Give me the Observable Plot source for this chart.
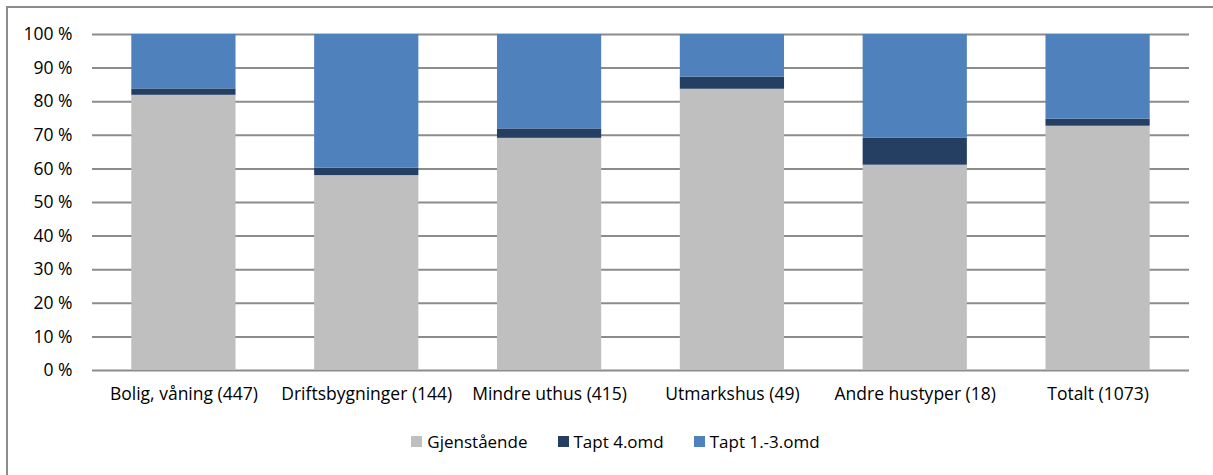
<!DOCTYPE html>
<html>
<head>
<meta charset="utf-8">
<script src="https://cdn.jsdelivr.net/npm/d3@7"></script>
<script src="https://cdn.jsdelivr.net/npm/@observablehq/plot@0.6"></script>
<style>
  html, body { margin: 0; padding: 0; background: #fff; overflow: hidden; }
  body { width: 1213px; height: 475px; position: relative; font-family: "Open Sans", sans-serif; }
  #frame { position: absolute; left: 6px; top: 6px; width: 1400px; height: 700px; border: 2px solid #8c8c8c; box-sizing: border-box; pointer-events: none; }
  #chart { position: absolute; left: 0; top: 0; }
  #legend { position: absolute; left: 0; top: 420px; width: 1213px; height: 55px; display: flex; justify-content: center; align-items: flex-start; padding-left: 18px; padding-top: 10px; box-sizing: border-box; font-size: 17px; color: #000; }
  .item { display: flex; align-items: center; margin: 0 15px; }
  .sw { width: 11px; height: 11px; margin-right: 5px; }
</style>
</head>
<body>
<div id="chart"></div>
<div id="legend"></div>
<div id="frame"></div>
<script>
const categories = ["Bolig, våning (447)", "Driftsbygninger (144)", "Mindre uthus (415)", "Utmarkshus (49)", "Andre hustyper (18)", "Totalt (1073)"];
const seriesNames = ["Gjenstående", "Tapt 4.omd", "Tapt 1.-3.omd"];
const seriesColors = ["#BFBFBF", "#243F62", "#4F81BD"];
const gjenstaende = [81.9, 58.0, 69.1, 83.7, 61.1, 72.7];
const tapt4 = [1.9, 2.2, 2.8, 3.6, 8.0, 2.1];
const tapt13 = [16.2, 39.8, 28.1, 12.7, 30.9, 25.2];
const yTicks = [0, 10, 20, 30, 40, 50, 60, 70, 80, 90, 100];

const valuesBySeries = [gjenstaende, tapt4, tapt13];
const data = [];
seriesNames.forEach((s, si) => {
  categories.forEach((c, ci) => {
    data.push({category: c, series: s, value: valuesBySeries[si][ci]});
  });
});

const chart = Plot.plot({
  width: 1213,
  height: 420,
  marginTop: 34,
  marginBottom: 50,
  marginLeft: 92,
  marginRight: 24,
  style: {fontFamily: "'Open Sans', sans-serif", fontSize: "17px", color: "#000", background: "transparent"},
  x: {domain: categories, paddingInner: 0.43, paddingOuter: 0.215, round: false, label: null},
  y: {domain: [0, 100], label: null},
  color: {domain: seriesNames, range: seriesColors},
  marks: [
    Plot.ruleY(yTicks, {stroke: "#8c8c8c", strokeWidth: 2, strokeOpacity: 1}),
    Plot.barY(data, Plot.stackY({order: seriesNames}, {x: "category", y: "value", fill: "series", z: "series", inset: 0})),
    Plot.axisY(yTicks, {tickSize: 0, tickPadding: 20, tickFormat: d => d + " %", label: null, fontSize: 17.5}),
    Plot.axisX({tickSize: 0, tickPadding: 17, label: null, fontSize: 17.5})
  ]
});
document.getElementById("chart").appendChild(chart);

const legend = document.getElementById("legend");
seriesNames.forEach((s, i) => {
  const item = document.createElement("div");
  item.className = "item";
  const sw = document.createElement("div");
  sw.className = "sw";
  sw.style.background = seriesColors[i];
  const t = document.createElement("span");
  t.textContent = s;
  item.appendChild(sw);
  item.appendChild(t);
  legend.appendChild(item);
});
</script>
</body>
</html>
